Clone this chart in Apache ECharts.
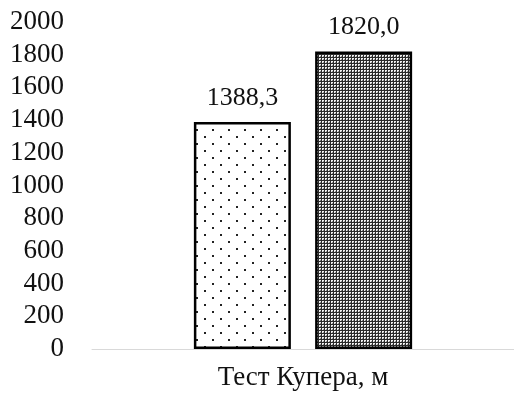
<!DOCTYPE html>
<html>
<head>
<meta charset="utf-8">
<script src="https://cdn.jsdelivr.net/npm/echarts@6/dist/echarts.min.js"></script>
<style>
html,body{margin:0;padding:0;background:#fff;}
#chart{width:514px;height:395px;}
</style>
</head>
<body>
<div id="chart"></div>
<script>
// Cooper test results, metres
const categories = ['Тест Купера, м'];
const seriesA = [1388.3];
const seriesB = [1820.0];
const yTicks = [0, 200, 400, 600, 800, 1000, 1200, 1400, 1600, 1800, 2000];

// sparse staggered dots on white
function dotPattern() {
  const c = document.createElement('canvas');
  c.width = 16; c.height = 14;
  const g = c.getContext('2d');
  g.fillStyle = '#fff'; g.fillRect(0, 0, 16, 14);
  g.fillStyle = '#222';
  g.fillRect(4, 3, 2, 2);
  g.fillRect(12, 10, 2, 2);
  return c;
}
// dense dark grid with small light squares
function gridPattern() {
  const c = document.createElement('canvas');
  c.width = 3; c.height = 3;
  const g = c.getContext('2d');
  g.fillStyle = '#2a2a2a'; g.fillRect(0, 0, 3, 3);
  g.fillStyle = '#f2f2f2'; g.fillRect(1, 1, 2, 2);
  g.fillStyle = '#8a8a8a'; g.fillRect(2, 2, 1, 1);
  return c;
}

const fmt = v => v.toFixed(1).replace('.', ',');
const font = 'Liberation Serif';
const textColor = '#111';

const chart = echarts.init(document.getElementById('chart'));
chart.setOption({
  animation: false,
  grid: { left: 92, right: -5, top: 22, bottom: 46 },
  xAxis: {
    type: 'category',
    data: categories,
    axisLine: { lineStyle: { color: '#d9d9d9', width: 1 } },
    axisTick: { show: false },
    axisLabel: { color: textColor, fontFamily: font, fontSize: 27, margin: 15 }
  },
  yAxis: {
    type: 'value',
    min: yTicks[0],
    max: yTicks[yTicks.length - 1],
    interval: yTicks[1] - yTicks[0],
    axisLine: { show: false },
    axisTick: { show: false },
    splitLine: { show: false },
    axisLabel: {
      color: textColor, fontFamily: font, fontSize: 27, margin: 28,
      formatter: v => String(v)
    }
  },
  series: [
    {
      type: 'bar',
      data: seriesA,
      barWidth: 97,
      barGap: '25%',
      itemStyle: {
        color: { image: dotPattern(), repeat: 'repeat' },
        borderColor: '#000',
        borderWidth: 2.5
      },
      label: {
        show: true, position: 'top', distance: 11,
        formatter: p => fmt(p.value),
        color: textColor, fontFamily: font, fontSize: 26
      }
    },
    {
      type: 'bar',
      data: seriesB,
      barWidth: 97,
      itemStyle: {
        color: { image: gridPattern(), repeat: 'repeat' },
        borderColor: '#000',
        borderWidth: 2.5
      },
      label: {
        show: true, position: 'top', distance: 11,
        formatter: p => fmt(p.value),
        color: textColor, fontFamily: font, fontSize: 26
      }
    }
  ]
});
</script>
</body>
</html>
